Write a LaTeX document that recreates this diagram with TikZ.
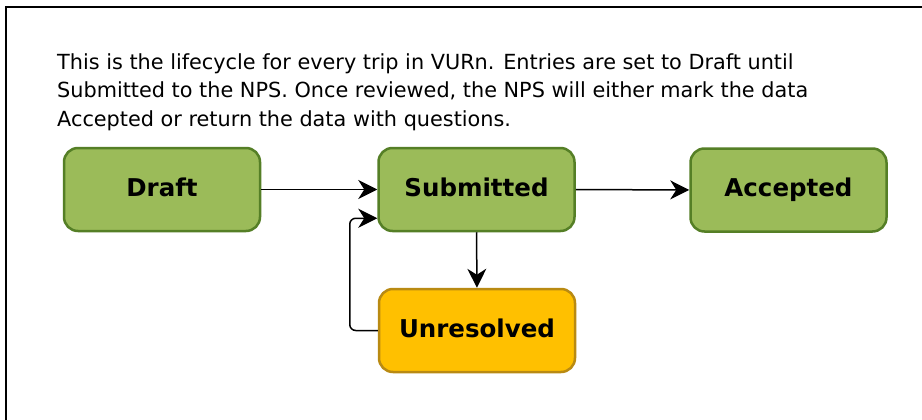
\documentclass[tikz,border=0pt]{standalone}
\usepackage{fontspec}
\usetikzlibrary{arrows.meta,calc}
\newfontfamily\bodyfont{DejaVu Sans}
\newfontfamily\labelfont{DejaVu Sans Bold}
\definecolor{boxgreen}{HTML}{9BBB59}
\definecolor{boxgreenline}{HTML}{557F26}
\definecolor{boxamber}{HTML}{FFC000}
\definecolor{boxamberline}{HTML}{B98A12}
\tikzset{
  statebox/.style={draw=boxgreenline, fill=boxgreen, line width=2.5pt, rounded corners=14pt,
    minimum width=196pt, minimum height=83pt, inner sep=0pt, text height=18pt, text depth=5pt,
    font=\labelfont\fontsize{24.5}{28}\selectfont, text=black},
  pendbox/.style={statebox, draw=boxamberline, fill=boxamber},
  flow/.style={line width=1.5pt, draw=black, -{Stealth[length=19pt,width=19pt,inset=6pt]}},
}
\begin{document}
\begin{tikzpicture}[x=1pt,y=-1pt]
\useasboundingbox (0,0) rectangle (922,420);
\fill[white] (0,0) rectangle (922,420);
\draw[line width=2pt] (922,7) -- (5.5,7) -- (5.5,420);
\node[anchor=base west, align=left, inner sep=0pt,
      font=\bodyfont\fontsize{20.8}{28.5}\selectfont] (intro) at (57,126.3)
  {This is the lifecycle for every trip in VURn. Entries are set to Draft until\\
   Submitted to the NPS. Once reviewed, the NPS will either mark the data\\
   Accepted or return the data with questions.};
\node[statebox] (draft) at (162,189.5) {Draft};
\node[statebox] (sub) at (476.5,189.5) {Submitted};
\node[statebox] (acc) at (788.5,190) {Accepted};
\node[pendbox] (unres) at (477,330.5) {Unresolved};
\draw[flow] (draft.east) -- (sub.west);
\draw[flow] (sub.east) -- (acc.west);
\draw[flow] (sub.south) -- (unres.north);
\coordinate (loopend) at ($(sub.south west)+(0,-14)$);
\draw[flow, rounded corners=6pt] (unres.west) -- ++(-28,0) |- (loopend);
\end{tikzpicture}
\end{document}
